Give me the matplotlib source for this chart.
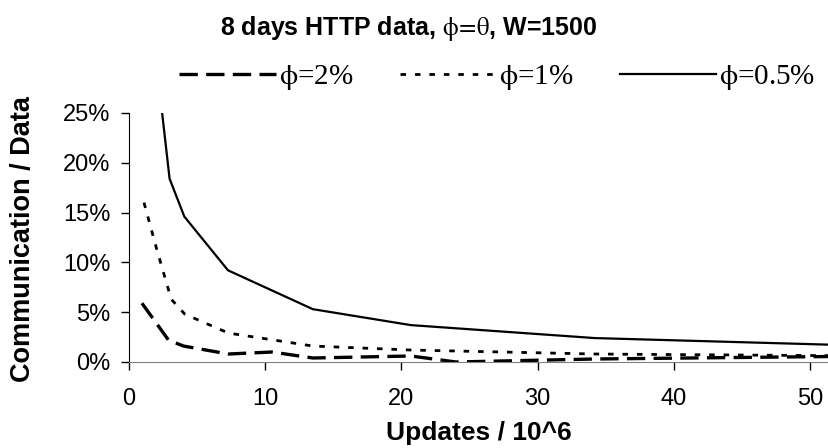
import matplotlib
matplotlib.use("Agg")
import matplotlib.pyplot as plt
from matplotlib.ticker import PercentFormatter

plt.rcParams['font.family'] = ['Liberation Sans', 'DejaVu Sans']
plt.rcParams['mathtext.fontset'] = 'stix'

# series (updates in millions, ratio in %)
x_2 = [0.95, 2.9, 4.0, 7.3, 10.5, 13.5, 17.0, 20.7, 24.0, 34.2, 55.0]
y_2 = [5.9, 2.2, 1.6, 0.8, 1.0, 0.4, 0.5, 0.6, 0.0, 0.3, 0.6]

x_1 = [1.1, 2.0, 3.1, 4.1, 7.3, 13.5, 20.7, 34.2, 55.0]
y_1 = [16.0, 11.5, 6.3, 4.8, 2.9, 1.6, 1.2, 0.8, 0.6]

x_05 = [2.1, 2.98, 4.06, 7.27, 13.5, 20.7, 34.2, 55.0]
y_05 = [29.0, 18.4, 14.6, 9.2, 5.3, 3.7, 2.4, 1.6]

labels = [r'$\mathrm{\phi}$=2%', r'$\mathrm{\phi}$=1%', r'$\mathrm{\phi}$=0.5%']

fig = plt.figure(figsize=(8.29, 4.48), dpi=100)
ax = fig.add_axes([0.1556, 0.192, 0.8444, 0.556])

ax.plot(x_2, y_2, color='black', lw=2.4, dashes=(5.5, 2.5), label=labels[0])
ax.plot(x_1, y_1, color='black', lw=2.0, dashes=(2, 3.2), label=labels[1])
ax.plot(x_05, y_05, color='black', lw=1.6, label=labels[2])

ax.set_xlim(0, 51.4)
ax.set_ylim(0, 25)
ax.set_xticks([0, 10, 20, 30, 40, 50])
ax.set_yticks([0, 5, 10, 15, 20, 25])
ax.yaxis.set_major_formatter(PercentFormatter(decimals=0))
ax.tick_params(labelsize=17, length=5.5, width=1, direction='out')
ax.tick_params(axis='y', pad=8)
ax.tick_params(axis='x', pad=13)
ax.spines['top'].set_visible(False)
ax.spines['right'].set_visible(False)
ax.spines['bottom'].set_color('#808080')

fig.text(0.578, 0.018, 'Updates / 10^6', ha='center', va='baseline',
         fontsize=19, fontweight='bold')
fig.text(0.028, 0.467, 'Communication / Data', ha='center', va='center',
         rotation=90, fontsize=19.5, fontweight='bold')

fig.text(0.493, 0.922, r'8 days HTTP data, $\mathrm{\phi\!=\!\theta}$, W=1500',
         ha='center', va='baseline', fontsize=18, fontweight='bold')

leg = fig.legend(loc='center', bbox_to_anchor=(0.6, 0.826), ncol=3, frameon=False,
                 handlelength=3.3, handletextpad=0.1, columnspacing=1.6,
                 prop={'family': 'Liberation Serif', 'size': 21})

fig.savefig('out.png', dpi=100)
